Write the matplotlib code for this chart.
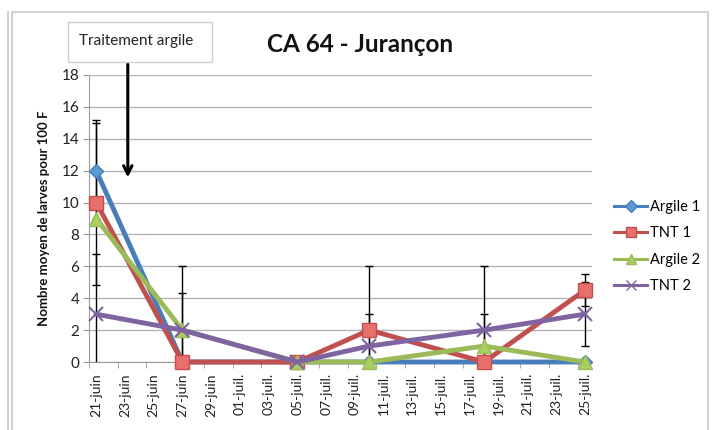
import matplotlib
matplotlib.use("Agg")
import matplotlib.pyplot as plt
import numpy as np
import datetime as dt
from matplotlib.patches import Rectangle
from matplotlib.lines import Line2D

plt.rcParams['font.family'] = ['Lato', 'DejaVu Sans']

# ---- data ----
start = dt.date(2013, 6, 21)
sample_dates = ["2013-06-21", "2013-06-27", "2013-07-05", "2013-07-10", "2013-07-18", "2013-07-25"]
argile1 = [12, 0, 0, 0, 0, 0]
tnt1 = [10, 0, 0, 2, 0, 4.5]
argile2 = [9, 2, 0, 0, 1, 0]
tnt2 = [3, 2, 0, 1, 2, 3]
err_argile1 = [3, 0, 0, 0, 0, 0]
err_tnt1 = [5.2, 0, 0, 4, 0, 1]
err_argile2 = [0, 4, 0, 0, 2, 0]
err_tnt2 = [3.8, 2.3, 0, 2, 4, 2]
tick_labels = ["21-juin", "23-juin", "25-juin", "27-juin", "29-juin", "01-juil.", "03-juil.",
               "05-juil.", "07-juil.", "09-juil.", "11-juil.", "13-juil.", "15-juil.", "17-juil.",
               "19-juil.", "21-juil.", "23-juil.", "25-juil."]
title = "CA 64 - Jurançon"
ylabel = "Nombre moyen de larves pour 100 F"
annot_text = "Traitement argile"

x = np.array([(dt.date.fromisoformat(d) - start).days for d in sample_dates], dtype=float)
tick_pos = np.arange(len(tick_labels)) * 2.0

W, H = 717, 430
fig = plt.figure(figsize=(W / 100, H / 100), dpi=100)

# outer frames
fig.add_artist(Line2D([8 / W, 8 / W], [0, 1 - 12 / H], transform=fig.transFigure, color="#c8c8c8", lw=1.2))
fig.add_artist(Line2D([12 / W, 12 / W, 708 / W, 708 / W], [0, 1 - 12 / H, 1 - 12 / H, 0],
                      transform=fig.transFigure, color="#c8c8c8", lw=1.2))

ax = fig.add_axes([89 / W, 1 - 362 / H, (592 - 89) / W, (362 - 75) / H])

series = [
    ("Argile 1", argile1, err_argile1, "#4A7EBB", "D", "#5B9BD5", 7.5),
    ("TNT 1", tnt1, err_tnt1, "#C0504D", "s", "#E8706C", 9.5),
    ("Argile 2", argile2, err_argile2, "#9BBB59", "^", "#A9CF62", 9.5),
    ("TNT 2", tnt2, err_tnt2, "#8064A2", "x", "#8064A2", 9.5),
]

for name, vals, errs, col, mk, fc, ms in series:
    e = np.array(errs, dtype=float)
    m = e > 0
    ax.errorbar(x[m], np.array(vals, dtype=float)[m], yerr=e[m], fmt="none", ecolor="black",
                elinewidth=1.0, capsize=3, capthick=1.0, zorder=2)

handles = []
for name, vals, errs, col, mk, fc, ms in series:
    ax.plot(x, vals, color=col, lw=3.5, marker=mk, markersize=ms, markerfacecolor=fc,
            markeredgecolor=col, markeredgewidth=1.0 if mk != "x" else 1.5,
            label=name, zorder=3, clip_on=False)
    handles.append(Line2D([], [], color=col, lw=2.2, marker=mk, markersize=ms * 0.75,
                          markerfacecolor=fc, markeredgecolor=col,
                          markeredgewidth=1.0, label=name))

ax.set_xlim(-0.5, 34.5)
ax.set_ylim(0, 18)
ax.set_yticks(np.arange(0, 19, 2))
ax.yaxis.grid(True, color="#b3b3b3", lw=1)
ax.set_axisbelow(True)
for s in ["top", "right"]:
    ax.spines[s].set_visible(False)
for s in ["left", "bottom"]:
    ax.spines[s].set_color("#9a9a9a")
ax.tick_params(axis="y", colors="#9a9a9a", labelcolor="#222222", labelsize=11, length=4, pad=3)
ax.set_xticks(tick_pos)
ax.set_xticklabels(tick_labels, rotation=90, fontsize=10, color="#222222")
ax.tick_params(axis="x", which="major", length=0, pad=8)
ax.set_xticks(tick_pos - 0.5, minor=True)
ax.tick_params(axis="x", which="minor", length=4, colors="#9a9a9a")

ax.set_ylabel(ylabel, fontsize=9.5, fontweight="bold", color="#111111", labelpad=8)

fig.text(360 / W, 1 - 44 / H, title, fontsize=17.5, fontweight="bold", ha="center", va="center", color="#111111")

# annotation box
fig.add_artist(Rectangle((68 / W, 1 - 62 / H), (212 - 68) / W, 40 / H, transform=fig.transFigure,
                         facecolor="white", edgecolor="#cfcfcf", lw=1))
fig.text(136 / W, 1 - 41 / H, annot_text, fontsize=11, ha="center", va="center", color="#222222")

ax.annotate("", xy=(2.2, 11.4), xytext=(2.2, 18.85), xycoords="data", textcoords="data",
            arrowprops=dict(arrowstyle="->,head_length=0.6,head_width=0.3", color="black", lw=2.2),
            annotation_clip=False)

fig.legend(handles=handles, loc="upper left", bbox_to_anchor=(608 / W, 1 - 194 / H), frameon=False,
           fontsize=10.5, handlelength=2.3, handletextpad=0.2, labelspacing=0.85, borderaxespad=0,
           numpoints=1)

fig.savefig("out.png", dpi=100)
